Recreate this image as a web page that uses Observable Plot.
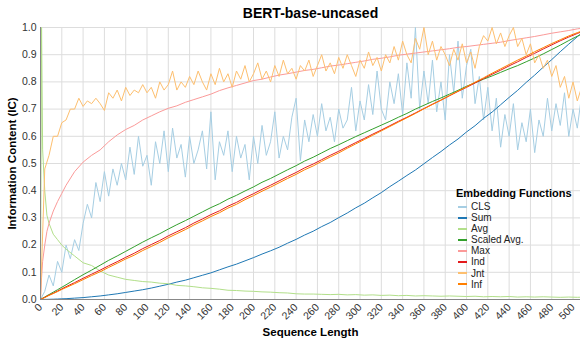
<!DOCTYPE html>
<html>
<head>
<meta charset="utf-8">
<script src="https://cdn.jsdelivr.net/npm/d3@7"></script>
<script src="https://cdn.jsdelivr.net/npm/@observablehq/plot@0.6"></script>
<style>
  html, body { margin: 0; padding: 0; background: #fff; overflow: hidden; }
  body { font-family: "Liberation Sans", Arial, Helvetica, sans-serif; width: 581px; height: 338px; position: relative; }
  #title { height: 22px; line-height: 26px; font-weight: bold; font-size: 14px; text-align: center; padding-left: 40px; color: #000; }
  #chart svg g[aria-label="x-axis label"] text,
  #chart svg g[aria-label="y-axis label"] text { font-weight: bold; font-size: 11.5px; fill: #000; }
  #legend { position: absolute; left: 456px; top: 187px; font-size: 10px; color: #222; }
  #legend .lt { font-weight: bold; font-size: 11px; color: #000; margin-bottom: 2px; }
  #legend .it { height: 11.1px; line-height: 11.1px; display: flex; align-items: center; }
  #legend .sw { width: 9px; height: 2px; margin: 0 4px 0 2px; }
</style>
</head>
<body>
<div id="title">BERT-base-uncased</div>
<div id="chart"></div>
<div id="legend"></div>
<script>
// ---- tick labels ----
const xTicks = [0,20,40,60,80,100,120,140,160,180,200,220,240,260,280,300,320,340,360,380,400,420,440,460,480,500];
const yTicks = [0,0.1,0.2,0.3,0.4,0.5,0.6,0.7,0.8,0.9,1.0];

// ---- series names / colours ----
const seriesNames = ["CLS","Sum","Avg","Scaled Avg.","Max","Ind","Jnt","Inf"];
const seriesColors = ["#a6cee3","#1f78b4","#b2df8a","#33a02c","#fb9a99","#e31a1c","#fdbf6f","#ff7f00"];

// ---- sequence lengths (coarse grid for smooth series) ----
const xCoarse = [0,1,2,4,6,8,12,16,20,24,
  32,40,48,56,64,72,80,88,96,104,112,120,128,136,144,152,160,168,176,184,
  192,200,208,216,224,232,240,248,256,264,272,280,288,296,304,312,320,328,336,344,
  352,360,368,376,384,392,400,408,416,424,432,440,448,456,464,472,480,488,496,504,512];
// fine grid step for the noisy series
const fineStep = 4;

// ---- values ----
const sumVals = [0,0,0,0.0003,0.0005,0.0008,0.0012,0.0018,0.0025,0.003,
  0.005,0.007,0.010,0.013,0.017,0.021,0.026,0.031,0.036,0.042,0.049,0.056,0.064,0.071,0.080,0.089,0.098,0.109,0.120,0.130,
  0.142,0.154,0.167,0.179,0.192,0.207,0.221,0.237,0.251,0.268,0.283,0.301,0.318,0.337,0.354,0.374,0.393,0.415,0.435,0.456,
  0.476,0.499,0.522,0.544,0.568,0.590,0.616,0.639,0.666,0.689,0.716,0.743,0.769,0.798,0.825,0.854,0.882,0.911,0.939,0.966,0.99];

const indVals = [0,0.002,0.004,0.008,0.012,0.016,0.023,0.031,0.039,0.047,
  0.062,0.078,0.093,0.108,0.124,0.139,0.155,0.170,0.187,0.202,0.217,0.234,0.249,0.264,0.281,0.296,0.312,0.326,0.343,0.357,
  0.374,0.389,0.405,0.420,0.436,0.452,0.467,0.484,0.498,0.514,0.530,0.545,0.561,0.577,0.592,0.608,0.623,0.639,0.655,0.670,
  0.686,0.702,0.718,0.733,0.749,0.765,0.780,0.796,0.812,0.828,0.843,0.859,0.874,0.890,0.905,0.921,0.936,0.951,0.965,0.978,0.99];

const infVals = [0,0.002,0.004,0.007,0.011,0.015,0.022,0.029,0.037,0.044,
  0.058,0.073,0.088,0.102,0.118,0.133,0.149,0.163,0.180,0.195,0.210,0.227,0.242,0.257,0.274,0.289,0.305,0.319,0.336,0.350,
  0.367,0.382,0.398,0.413,0.429,0.445,0.460,0.477,0.491,0.508,0.524,0.539,0.556,0.572,0.588,0.604,0.620,0.636,0.652,0.668,
  0.684,0.701,0.717,0.733,0.750,0.766,0.782,0.799,0.815,0.832,0.848,0.864,0.880,0.895,0.911,0.926,0.941,0.955,0.969,0.981,0.992];

const scaledVals = [0,0.002,0.005,0.009,0.014,0.018,0.027,0.036,0.045,0.054,
  0.073,0.091,0.108,0.126,0.144,0.160,0.177,0.194,0.211,0.227,0.242,0.259,0.275,0.290,0.306,0.322,0.338,0.352,0.369,0.383,
  0.399,0.414,0.431,0.445,0.461,0.477,0.492,0.509,0.523,0.539,0.555,0.569,0.584,0.599,0.613,0.627,0.641,0.655,0.670,0.684,
  0.700,0.714,0.728,0.741,0.755,0.769,0.784,0.797,0.810,0.822,0.835,0.848,0.860,0.874,0.888,0.903,0.919,0.935,0.952,0.968,0.985];

const maxVals = [0,0.08,0.14,0.2,0.25,0.28,0.325,0.36,0.39,0.42,
  0.47,0.505,0.53,0.55,0.58,0.605,0.625,0.64,0.66,0.675,0.69,0.703,0.712,0.725,0.735,0.745,0.755,0.768,0.778,0.787,
  0.796,0.805,0.81,0.818,0.825,0.83,0.836,0.842,0.846,0.852,0.858,0.862,0.867,0.872,0.877,0.883,0.887,0.892,0.898,0.902,
  0.906,0.91,0.914,0.918,0.922,0.927,0.93,0.934,0.938,0.942,0.946,0.952,0.957,0.962,0.967,0.973,0.979,0.984,0.989,0.995,0.999];

const avgVals = [0,1.0,0.55,0.4,0.31,0.28,0.24,0.22,0.2,0.185,
  0.16,0.135,0.125,0.105,0.09,0.082,0.074,0.07,0.066,0.064,0.06,0.058,0.052,0.05,0.047,0.043,0.041,0.038,0.034,0.033,
  0.031,0.03,0.028,0.027,0.025,0.024,0.021,0.02,0.02,0.019,0.018,0.019,0.017,0.018,0.016,0.017,0.015,0.016,0.014,0.015,
  0.013,0.014,0.013,0.012,0.013,0.012,0.011,0.012,0.01,0.011,0.01,0.011,0.009,0.01,0.009,0.01,0.009,0.008,0.009,0.008,0.009];

const clsVals = [0,0.03,0.09,0.05,0.14,0.1,0.2,0.15,0.22,0.18,0.28,0.35,0.3,0.43,0.36,0.47,0.38,0.48,0.42,0.5,
  0.44,0.56,0.46,0.6,0.49,0.53,0.42,0.58,0.5,0.62,0.47,0.63,0.52,0.57,0.45,0.6,0.5,0.55,0.62,0.48,
  0.69,0.44,0.58,0.53,0.62,0.47,0.6,0.52,0.57,0.44,0.6,0.5,0.64,0.53,0.58,0.69,0.52,0.6,0.55,0.67,
  0.74,0.51,0.66,0.58,0.68,0.6,0.72,0.62,0.67,0.58,0.7,0.63,0.66,0.78,0.62,0.73,0.66,0.79,0.68,0.84,
  0.7,0.66,0.8,0.72,0.83,0.68,0.87,0.74,1.0,0.7,0.84,0.72,0.88,0.69,0.8,0.66,0.9,0.76,0.95,0.74,
  0.86,0.92,0.72,0.82,0.66,0.78,0.62,0.74,0.56,0.68,0.6,0.72,0.55,0.65,0.58,0.7,0.54,0.66,0.6,0.74,
  0.62,0.72,0.64,0.76,0.6,0.7,0.63,0.75,0.7];

const jntVals = [0,0.48,0.53,0.6,0.6,0.65,0.66,0.7,0.7,0.74,0.71,0.73,0.72,0.74,0.72,0.695,0.76,0.74,0.77,0.73,
  0.78,0.75,0.77,0.76,0.79,0.76,0.78,0.74,0.8,0.77,0.79,0.84,0.77,0.8,0.78,0.82,0.79,0.84,0.8,0.77,
  0.83,0.79,0.85,0.8,0.83,0.78,0.84,0.81,0.86,0.8,0.83,0.87,0.81,0.84,0.8,0.86,0.82,0.88,0.83,0.85,
  0.81,0.86,0.84,0.88,0.82,0.86,0.9,0.84,0.87,0.83,0.89,0.85,0.9,0.86,0.82,0.88,0.85,0.91,0.86,0.89,
  0.84,0.9,0.87,0.93,0.88,0.95,0.9,0.87,0.96,0.92,1.0,0.9,0.95,0.88,0.93,0.9,0.86,0.92,0.88,0.94,
  0.87,0.91,0.85,0.93,0.97,0.95,1.0,0.94,0.98,0.93,0.97,1.0,0.93,0.96,0.9,0.94,0.87,0.9,0.85,0.88,
  0.82,0.86,0.78,0.82,0.74,0.8,0.73,0.78,0.75];

// ---- build table ----
function coarse(vals) { return vals.map((v, i) => ({x: xCoarse[i], y: v})); }
function fine(vals) { return vals.map((v, i) => ({x: i * fineStep, y: v})); }
const seriesData = {
  "CLS": fine(clsVals),
  "Sum": coarse(sumVals),
  "Avg": coarse(avgVals),
  "Scaled Avg.": coarse(scaledVals),
  "Max": coarse(maxVals),
  "Ind": coarse(indVals),
  "Jnt": fine(jntVals),
  "Inf": coarse(infVals)
};

const lineMarks = seriesNames.map((n, i) =>
  Plot.line(seriesData[n], {x: "x", y: "y", stroke: seriesColors[i], strokeWidth: 1, clip: true})
);

const chart = Plot.plot({
  width: 581,
  height: 316,
  marginTop: 5,
  marginBottom: 39,
  marginLeft: 40,
  marginRight: 1,
  style: {fontFamily: "'Liberation Sans', Arial, sans-serif", fontSize: "10.5px", color: "#333", background: "transparent"},
  x: {domain: [0, 507], ticks: xTicks, tickFormat: d3.format("d"), tickRotate: -45, tickSize: 0, tickPadding: 6,
      label: "Sequence Length", labelAnchor: "center", labelArrow: "none", labelOffset: 36},
  y: {domain: [0, 1], ticks: yTicks, tickFormat: d3.format(".1f"), tickSize: 0, tickPadding: 4,
      label: "Information Content (IC)", labelAnchor: "center", labelArrow: "none", labelOffset: 33},
  marks: [
    Plot.gridX(xTicks, {stroke: "#ddd", strokeOpacity: 1}),
    Plot.gridY(yTicks, {stroke: "#ddd", strokeOpacity: 1}),
    ...lineMarks,
    Plot.ruleX([0], {stroke: "#888"}),
    Plot.ruleY([0], {stroke: "#888"})
  ]
});
document.getElementById("chart").appendChild(chart);

// ---- legend ----
const lg = document.getElementById("legend");
const lt = document.createElement("div");
lt.className = "lt";
lt.textContent = "Embedding Functions";
lg.appendChild(lt);
seriesNames.forEach((n, i) => {
  const it = document.createElement("div");
  it.className = "it";
  const sw = document.createElement("span");
  sw.className = "sw";
  sw.style.background = seriesColors[i];
  const tx = document.createElement("span");
  tx.textContent = n;
  it.appendChild(sw);
  it.appendChild(tx);
  lg.appendChild(it);
});
</script>
</body>
</html>
